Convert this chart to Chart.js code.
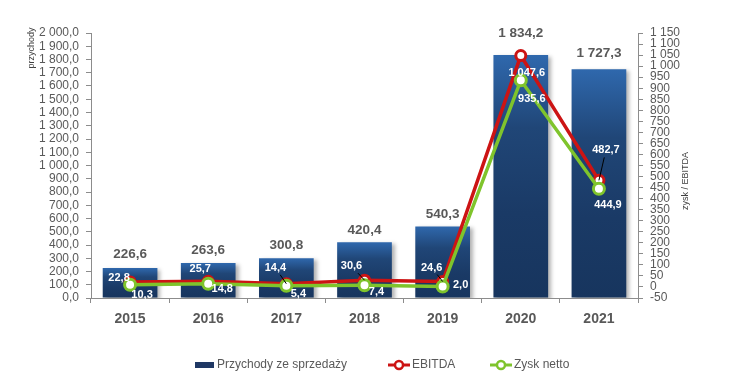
<!DOCTYPE html>
<html>
<head>
<meta charset="utf-8">
<script src="https://cdn.jsdelivr.net/npm/chart.js@4.4.0/dist/chart.umd.min.js"></script>
<style>
  body { margin: 0; background: #fff; }
  #wrap { width: 750px; height: 387px; }
</style>
</head>
<body>
<div id="wrap"><canvas id="chart" width="750" height="387"></canvas></div>
<script>
// data
const years = ["2015", "2016", "2017", "2018", "2019", "2020", "2021"];
const przychody = [226.6, 263.6, 300.8, 420.4, 540.3, 1834.2, 1727.3];
const ebitda = [22.8, 25.7, 14.4, 30.6, 24.6, 1047.6, 482.7];
const zyskNetto = [10.3, 14.8, 5.4, 7.4, 2.0, 935.6, 444.9];

const leftAxis = { min: 0, max: 2000, step: 100 };
const rightAxis = { min: -50, max: 1150, step: 50 };

const FONT = "'Liberation Sans', Arial, sans-serif";
const GREY = "#595959";
const AXIS = "#8c8c8c";
const RED = "#cc1414";
const GREEN = "#7fc42c";

// polish number format: "1 834,2"
function plNum(v, dec) {
    let s = Math.abs(v).toFixed(dec);
    let [i, f] = s.split(".");
    if (i.length > 3) i = i.replace(/\B(?=(\d{3})+(?!\d))/g, " ");
    return (v < 0 ? "-" : "") + i + (f ? "," + f : "");
}

// label placement, relative to the point (px)
const barLift = [14, 13, 13, 12, 12, 22, 16];
const ebitdaOffsets = [[-11, -4], [-8, -12], [-11, -16], [-13, -14], [-11, -14], [6, 17], [7, -30]];
const zyskOffsets = [[12, 10], [14, 5], [12, 8], [12, 7], [18, -2], [11, 19], [9, 16]];
const ebitdaLeaders = [false, false, true, true, true, false, true];

function barGradient(ctx) {
    const chart = ctx.chart;
    if (!chart.chartArea || ctx.type !== "data") return "#1f3864";
    const y = chart.scales.y;
    const top = y.getPixelForValue(ctx.raw);
    const bottom = y.getPixelForValue(0);
    const g = chart.ctx.createLinearGradient(0, top, 0, bottom);
    g.addColorStop(0, "#2f68ad");
    g.addColorStop(0.3, "#204677");
    g.addColorStop(0.65, "#1a3a66");
    g.addColorStop(1, "#17355e");
    return g;
}

const barShadow = {
    id: "barShadow",
    beforeDatasetDraw(chart, args) {
        if (args.index !== 0) return;
        const c = chart.ctx;
        c.save();
        c.shadowColor = "rgba(0,0,0,0.3)";
        c.shadowBlur = 4;
        c.shadowOffsetX = 3;
        c.shadowOffsetY = 2;
    },
    afterDatasetDraw(chart, args) {
        if (args.index === 0) chart.ctx.restore();
    }
};

const valueLabels = {
    id: "valueLabels",
    afterDatasetsDraw(chart) {
        const c = chart.ctx;
        c.save();
        c.textAlign = "center";
        c.textBaseline = "middle";

        // bar values
        c.font = "bold 13.5px " + FONT;
        c.fillStyle = GREY;
        chart.getDatasetMeta(0).data.forEach((bar, i) => {
            c.fillText(plNum(przychody[i], 1), bar.x, bar.y - barLift[i]);
        });

        c.font = "bold 11px " + FONT;
        // EBITDA labels with leader lines
        chart.getDatasetMeta(1).data.forEach((pt, i) => {
            const txt = plNum(ebitda[i], 1);
            const lx = pt.x + ebitdaOffsets[i][0];
            const ly = pt.y + ebitdaOffsets[i][1];
            if (ebitdaLeaders[i]) {
                const hw = c.measureText(txt).width / 2 + 1;
                const hh = 7;
                const dx = pt.x - lx, dy = pt.y - ly;
                const t = Math.min(Math.abs(hw / (dx || 1e-6)), Math.abs(hh / (dy || 1e-6)));
                c.beginPath();
                c.moveTo(lx + dx * t, ly + dy * t);
                c.lineTo(pt.x, pt.y);
                c.strokeStyle = "#000";
                c.lineWidth = 1;
                c.stroke();
            }
            c.fillStyle = "#fff";
            c.fillText(txt, lx, ly);
        });
        chart.getDatasetMeta(2).data.forEach((pt, i) => {
            c.fillStyle = "#fff";
            c.fillText(plNum(zyskNetto[i], 1), pt.x + zyskOffsets[i][0], pt.y + zyskOffsets[i][1]);
        });
        c.restore();
    }
};

const extras = {
    id: "extras",
    afterDraw(chart) {
        const c = chart.ctx;
        c.save();
        // axis titles
        c.fillStyle = "#404040";
        c.textAlign = "center";
        c.textBaseline = "middle";
        c.font = "9px " + FONT;
        c.translate(32, 48);
        c.rotate(-Math.PI / 2);
        c.fillText("przychody", 0, 0);
        c.restore();

        c.save();
        c.fillStyle = "#404040";
        c.textAlign = "center";
        c.textBaseline = "middle";
        c.font = "9px " + FONT;
        c.translate(686, 181);
        c.rotate(-Math.PI / 2);
        c.fillText("zysk / EBITDA", 0, 0);
        c.restore();

        // legend
        const ds = chart.data.datasets;
        const y = 365;
        c.save();
        c.font = "12px " + FONT;
        c.fillStyle = GREY;
        c.textBaseline = "middle";
        c.textAlign = "left";

        c.fillStyle = "#1f3864";
        c.fillRect(195, y - 3, 19, 6);
        c.fillStyle = GREY;
        c.fillText(ds[0].label, 217, y);

        [[ds[1], 388], [ds[2], 490]].forEach(([d, x]) => {
            c.beginPath();
            c.moveTo(x, y);
            c.lineTo(x + 22, y);
            c.strokeStyle = d.borderColor;
            c.lineWidth = 3;
            c.stroke();
            c.beginPath();
            c.arc(x + 11, y, 4, 0, Math.PI * 2);
            c.fillStyle = "#fff";
            c.fill();
            c.lineWidth = 2.5;
            c.stroke();
            c.fillStyle = GREY;
            c.fillText(d.label, x + 24, y);
        });
        c.restore();
    }
};

const lineStyle = (color, r) => ({
    type: "line",
    yAxisID: "y1",
    borderColor: color,
    borderWidth: 3.5,
    pointRadius: r,
    pointBorderWidth: 3,
    pointBackgroundColor: "#fff",
    pointBorderColor: color,
    tension: 0
});

new Chart(document.getElementById("chart"), {
    type: "bar",
    data: {
        labels: years,
        datasets: [
            {
                label: "Przychody ze sprzedaży",
                data: przychody,
                backgroundColor: barGradient,
                categoryPercentage: 1,
                barPercentage: 0.7,
                order: 3
            },
            Object.assign({ label: "EBITDA", data: ebitda, order: 2 }, lineStyle(RED, 5)),
            Object.assign({ label: "Zysk netto", data: zyskNetto, order: 1 }, lineStyle(GREEN, 5.5))
        ]
    },
    options: {
        responsive: false,
        animation: false,
        layout: { padding: { top: 33, left: 0, right: 0, bottom: 0 } },
        plugins: {
            legend: { display: false },
            tooltip: { enabled: false }
        },
        scales: {
            x: {
                grid: { drawOnChartArea: false, tickLength: 5, color: AXIS, offset: true },
                border: { color: AXIS },
                ticks: { color: GREY, font: { family: FONT, size: 14, weight: "bold" }, padding: 8 },
                afterFit: s => { s.height = 89; }
            },
            y: {
                position: "left",
                min: leftAxis.min,
                max: leftAxis.max,
                grid: { drawOnChartArea: false, tickLength: 5, color: AXIS },
                border: { color: AXIS },
                ticks: {
                    stepSize: leftAxis.step,
                    autoSkip: false,
                    color: GREY,
                    padding: 7,
                    font: { family: FONT, size: 12 },
                    callback: v => plNum(v, 1)
                },
                afterFit: s => { s.width = 91; }
            },
            y1: {
                position: "right",
                min: rightAxis.min,
                max: rightAxis.max,
                grid: { drawOnChartArea: false, tickLength: 5, color: AXIS },
                border: { color: AXIS },
                ticks: {
                    stepSize: rightAxis.step,
                    autoSkip: false,
                    color: GREY,
                    padding: 7,
                    font: { family: FONT, size: 12 },
                    callback: v => plNum(v, 0)
                },
                afterFit: s => { s.width = 112; }
            }
        }
    },
    plugins: [barShadow, valueLabels, extras]
});
</script>
</body>
</html>
